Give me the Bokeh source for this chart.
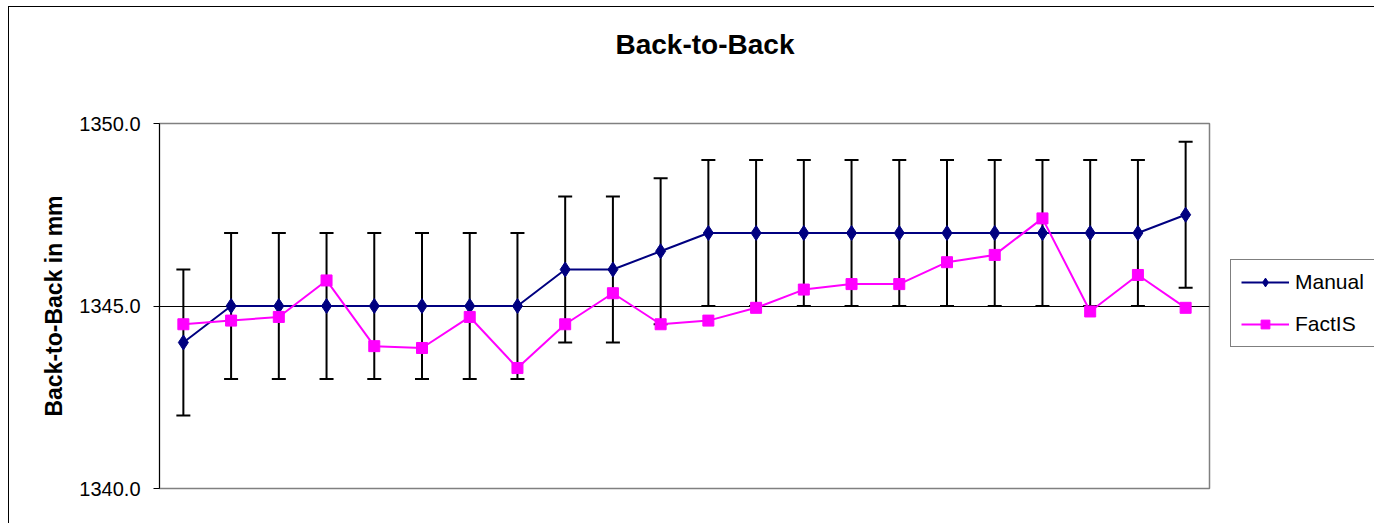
from bokeh.plotting import figure
from bokeh.models import (ColumnDataSource, Whisker, TeeHead, Legend, LegendItem, Title,
                          FixedTicker, PrintfTickFormatter, Range1d)
from bokeh.embed import file_html
from bokeh.resources import INLINE

# ---- data ----
test_no = [1, 2, 3, 4, 5, 6, 7, 8, 9, 10, 11, 12, 13, 14, 15, 16, 17, 18, 19, 20, 21, 22]
manual = [1344.0, 1345.0, 1345.0, 1345.0, 1345.0, 1345.0, 1345.0, 1345.0, 1346.0, 1346.0, 1346.5,
          1347.0, 1347.0, 1347.0, 1347.0, 1347.0, 1347.0, 1347.0, 1347.0, 1347.0, 1347.0, 1347.5]
manual_err = [2.0, 2.0, 2.0, 2.0, 2.0, 2.0, 2.0, 2.0, 2.0, 2.0, 2.0,
              2.0, 2.0, 2.0, 2.0, 2.0, 2.0, 2.0, 2.0, 2.0, 2.0, 2.0]
factis = [1344.5, 1344.6, 1344.7, 1345.7, 1343.9, 1343.85, 1344.7, 1343.3, 1344.5, 1345.35, 1344.5,
          1344.6, 1344.95, 1345.45, 1345.6, 1345.6, 1346.2, 1346.4, 1347.4, 1344.85, 1345.85, 1344.95]
y_ticks = [1340.0, 1345.0, 1350.0]
series_names = ["Manual", "FactIS"]
chart_title = "Back-to-Back"
y_label = "Back-to-Back in mm"

FONT = "Liberation Sans"

src = ColumnDataSource(dict(
    x=test_no, manual=manual, factis=factis,
    upper=[m + e for m, e in zip(manual, manual_err)],
    lower=[m - e for m, e in zip(manual, manual_err)],
))

p = figure(frame_width=1050, frame_height=365, output_backend="svg", toolbar_location=None,
           x_range=Range1d(0.5, len(test_no) + 0.5), y_range=Range1d(y_ticks[0], y_ticks[-1]),
           min_border_left=150, min_border_right=165, min_border_top=116, min_border_bottom=35,
           title=None)
p.styles = {"margin-left": "8px", "margin-top": "6px",
            "border-left": "1px solid black", "border-top": "1px solid black"}

# spacer between frame and title (closest to frame), then the real title (outermost)
spacer = Title(text=" ", text_font_size="10px", standoff=35)
p.add_layout(spacer, "above")
title = Title(text=chart_title, align="left", offset=456, standoff=32,
              text_font=FONT, text_font_size="28px", text_font_style="bold",
              text_color="black")
p.add_layout(title, "above")

p.outline_line_color = "#808080"
p.outline_line_width = 1.5
p.background_fill_color = "white"
p.border_fill_color = "white"

p.xaxis.visible = False
p.xgrid.visible = False

p.yaxis.ticker = FixedTicker(ticks=y_ticks)
p.yaxis.formatter = PrintfTickFormatter(format="%.1f")
p.yaxis.axis_label = y_label
p.yaxis.axis_label_text_font = FONT
p.yaxis.axis_label_text_font_size = "23px"
p.yaxis.axis_label_text_font_style = "bold"
p.yaxis.axis_label_text_color = "black"
p.yaxis.axis_label_standoff = 9
p.yaxis.major_label_text_font = FONT
p.yaxis.major_label_text_font_size = "20px"
p.yaxis.major_label_text_color = "black"
p.yaxis.major_label_standoff = 13
p.yaxis.axis_line_color = "black"
p.yaxis.major_tick_line_color = "black"
p.yaxis.major_tick_in = 0
p.yaxis.major_tick_out = 6
p.yaxis.minor_tick_line_color = None

p.ygrid.grid_line_color = "black"
p.ygrid.grid_line_width = 1

# error bars
wh = Whisker(base="x", upper="upper", lower="lower", source=src,
             line_color="black", line_width=2,
             upper_head=TeeHead(size=14, line_color="black", line_width=2),
             lower_head=TeeHead(size=14, line_color="black", line_width=2))
p.add_layout(wh)

navy = "#000080"
pink = "#FF00FF"
l1 = p.line("x", "manual", source=src, line_color=navy, line_width=2)
s1 = p.scatter("x", "manual", source=src, marker="diamond", size=15,
               fill_color=navy, line_color=navy)
l2 = p.line("x", "factis", source=src, line_color=pink, line_width=2)
s2 = p.scatter("x", "factis", source=src, marker="square", size=11,
               fill_color=pink, line_color=pink)

legend = Legend(items=[LegendItem(label=series_names[0], renderers=[l1, s1]),
                       LegendItem(label=series_names[1], renderers=[l2, s2])],
                location=(21, 141), margin=0, padding=10, spacing=18,
                glyph_width=48, glyph_height=22, label_height=22, label_standoff=6,
                label_text_font=FONT, label_text_font_size="21px",
                label_text_color="black",
                border_line_color="black", border_line_width=1,
                background_fill_color="white", background_fill_alpha=1.0)
p.add_layout(legend, "right")

open("out.html", "w").write(file_html(p, INLINE))
